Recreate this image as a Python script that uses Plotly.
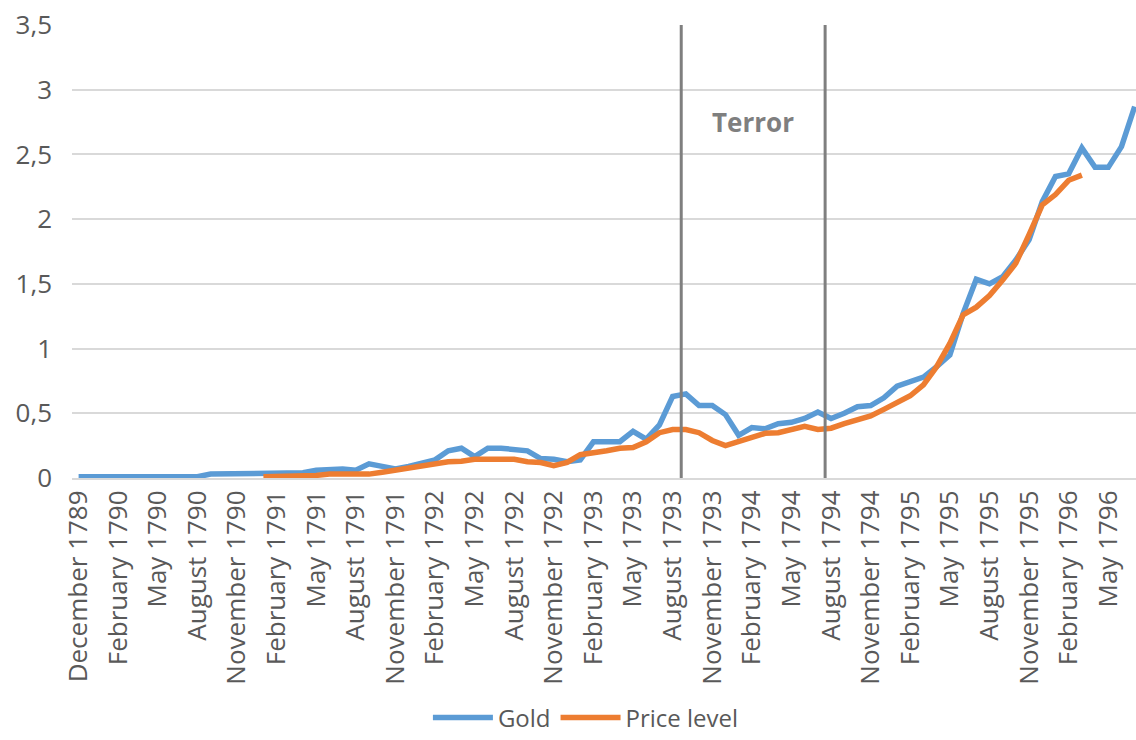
import plotly.graph_objects as go

# Month labels shown on the category axis (every third month)
tick_labels = [
    "December 1789", "February 1790", "May 1790", "August 1790", "November 1790",
    "February 1791", "May 1791", "August 1791", "November 1791",
    "February 1792", "May 1792", "August 1792", "November 1792",
    "February 1793", "May 1793", "August 1793", "November 1793",
    "February 1794", "May 1794", "August 1794", "November 1794",
    "February 1795", "May 1795", "August 1795", "November 1795",
    "February 1796", "May 1796",
]
tick_step = 3

# Monthly gold price series
gold = [
    0.01, 0.01, 0.01, 0.01, 0.01, 0.01, 0.01, 0.01, 0.01, 0.01,
    0.03, 0.03, 0.03, 0.03, 0.03, 0.03, 0.03,
    0.04, 0.06, 0.07, 0.07, 0.06, 0.11, 0.09, 0.07, 0.09, 0.115, 0.14,
    0.21, 0.23, 0.165, 0.23, 0.23, 0.215, 0.21, 0.15, 0.145, 0.125, 0.14,
    0.28, 0.28, 0.28, 0.36, 0.30, 0.41, 0.63, 0.65, 0.56, 0.56, 0.49,
    0.33, 0.39, 0.38, 0.42, 0.43, 0.46, 0.51, 0.46, 0.50, 0.55, 0.56,
    0.62, 0.71, 0.74, 0.78, 0.86, 0.95, 1.27, 1.535, 1.50, 1.555, 1.685,
    1.84, 2.135, 2.33, 2.35, 2.55, 2.40, 2.40, 2.56, 2.87,
]

# Monthly price level series (starts later than gold)
price_start = 14
price_level = [
    0.01, 0.01, 0.01, 0.01, 0.02, 0.03, 0.03, 0.03, 0.03, 0.045,
    0.06, 0.08, 0.10, 0.115, 0.125, 0.13, 0.145, 0.145, 0.145, 0.145,
    0.125, 0.12, 0.095, 0.12, 0.18, 0.19, 0.21, 0.23, 0.235, 0.28,
    0.35, 0.375, 0.375, 0.35, 0.29, 0.25, 0.28, 0.31, 0.345, 0.35,
    0.37, 0.40, 0.375, 0.385, 0.42, 0.45, 0.48, 0.53, 0.585, 0.635,
    0.72, 0.86, 1.04, 1.26, 1.32, 1.41, 1.53, 1.66, 1.88, 2.11,
    2.19, 2.30, 2.34,
]

# Reign of Terror boundaries, in month-index units (Sept 1793 - July 1794)
terror_start = 45.65
terror_end = 56.55
terror_label = "Terror"

gold_x = list(range(len(gold)))
price_x = list(range(price_start, price_start + len(price_level)))
tick_vals = [i * tick_step for i in range(len(tick_labels))]

BLUE = "#5B9BD5"
ORANGE = "#ED7D31"
GREY_TEXT = "#595959"
GRID = "#D9D9D9"
FONT = "Open Sans"

fig = go.Figure()
fig.add_trace(go.Scatter(
    x=gold_x, y=gold, name="Gold", mode="lines",
    line=dict(color=BLUE, width=5.5),
))
fig.add_trace(go.Scatter(
    x=price_x, y=price_level, name="Price level", mode="lines",
    line=dict(color=ORANGE, width=5.5),
))

for xv in (terror_start, terror_end):
    fig.add_shape(
        type="line", xref="x", yref="y", x0=xv, x1=xv, y0=0, y1=3.5,
        line=dict(color="#7F7F7F", width=3), layer="above",
    )

fig.add_annotation(
    x=(terror_start + terror_end) / 2, y=2.75, xref="x", yref="y",
    text="<b>" + terror_label + "</b>", showarrow=False,
    font=dict(family=FONT, size=26, color="#7F7F7F"),
)

fig.update_layout(
    width=1136, height=740,
    margin=dict(l=72, r=0, t=25, b=262),
    paper_bgcolor="white", plot_bgcolor="white",
    separators=", ",
    font=dict(family=FONT, size=24, color=GREY_TEXT),
    showlegend=True,
    legend=dict(
        orientation="h", x=0.483, xanchor="center",
        yref="container", y=0.03, yanchor="middle",
        font=dict(family=FONT, size=24, color=GREY_TEXT),
        itemwidth=60,
    ),
)
fig.update_xaxes(
    range=[-0.5, 80.1],
    tickmode="array", tickvals=tick_vals, ticktext=tick_labels,
    tickangle=-90, showgrid=False, zeroline=False,
    showline=True, linecolor=GRID, linewidth=2,
    ticks="", tickfont=dict(family=FONT, size=26, color=GREY_TEXT),
)
fig.update_yaxes(
    range=[0, 3.5], dtick=0.5, tick0=0,
    showgrid=True, gridcolor=GRID, gridwidth=2,
    zeroline=False, showline=False, ticks="",
    ticklabelstandoff=19,
    tickfont=dict(family=FONT, size=26, color=GREY_TEXT),
)

fig.write_html("out.html")
